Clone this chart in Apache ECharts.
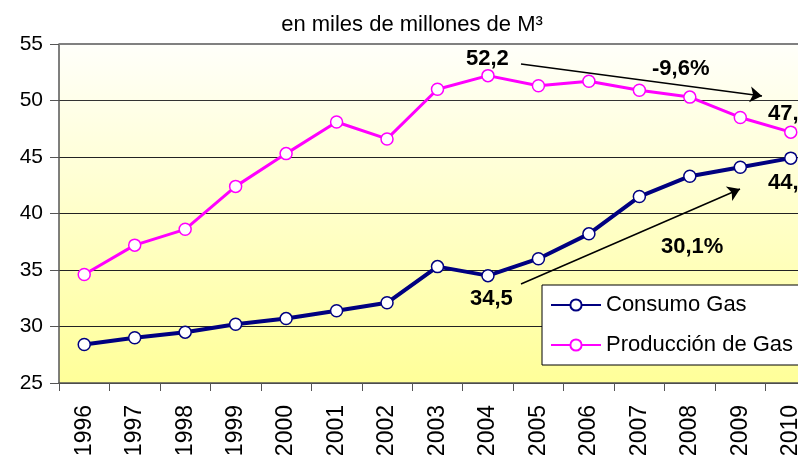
<!DOCTYPE html>
<html>
<head>
<meta charset="utf-8">
<script src="https://cdn.jsdelivr.net/npm/echarts@6/dist/echarts.min.js"></script>
<style>
html,body{margin:0;padding:0;background:#fff;}
#c{width:798px;height:455px;}
</style>
</head>
<body>
<div id="c"></div>
<script>
const years = ['1996','1997','1998','1999','2000','2001','2002','2003','2004','2005','2006','2007','2008','2009','2010'];
const consumo = [28.4, 29.0, 29.5, 30.2, 30.7, 31.4, 32.1, 35.3, 34.5, 36.0, 38.2, 41.5, 43.3, 44.1, 44.9];
const produccion = [34.6, 37.2, 38.6, 42.4, 45.3, 48.1, 46.6, 51.0, 52.2, 51.3, 51.7, 50.9, 50.3, 48.5, 47.2];
const yTicks = [25, 30, 35, 40, 45, 50, 55];
const seriesNames = ['Consumo Gas', 'Producción de Gas'];
const subtitle = 'en miles de millones de M³';

const FONT = '"Liberation Sans", Arial, sans-serif';
const chart = echarts.init(document.getElementById('c'));

const arrowMark = (x1, y1, x2, y2) => ({
  silent: true, symbol: ['none', 'arrow'], symbolSize: 12,
  label: {show: false},
  lineStyle: {color: '#000', width: 1.5, type: 'solid'},
  data: [[{x: x1, y: y1}, {x: x2, y: y2}]]
});

chart.setOption({
  animation: false,
  backgroundColor: '#ffffff',
  title: {
    text: subtitle,
    left: 407, top: 9, textAlign: 'center',
    textStyle: {fontFamily: FONT, fontSize: 22, fontWeight: 'normal', color: '#000'}
  },
  grid: {
    left: 59, top: 44, right: -18, bottom: 72,
    containLabel: false, outerBoundsMode: 'none',
    show: true, borderWidth: 0,
    backgroundColor: {
      type: 'linear', x: 0, y: 0, x2: 0, y2: 1,
      colorStops: [{offset: 0, color: '#fffffa'}, {offset: 1, color: '#ffff99'}]
    }
  },
  legend: {
    orient: 'vertical', left: 542, top: 285,
    backgroundColor: '#ffffff', borderColor: '#000', borderWidth: 1,
    padding: [9, 12, 9, 8],
    itemWidth: 50, itemHeight: 14, itemGap: 18,
    textStyle: {fontFamily: FONT, fontSize: 22, color: '#000'},
    data: seriesNames
  },
  xAxis: {
    type: 'category', data: years, boundaryGap: true,
    axisLine: {show: true, lineStyle: {color: '#555', width: 1.5}},
    axisTick: {show: true, length: 8, lineStyle: {color: '#555'}},
    axisLabel: {rotate: 90, margin: 22, fontFamily: FONT, fontSize: 23, color: '#000'}
  },
  yAxis: {
    type: 'value', min: yTicks[0], max: yTicks[yTicks.length - 1], interval: 5,
    axisLine: {show: true, lineStyle: {color: '#555', width: 1.5}},
    axisTick: {show: true, length: 9, lineStyle: {color: '#555'}},
    axisLabel: {margin: 16, fontFamily: FONT, fontSize: 21, color: '#000'},
    splitLine: {show: true, lineStyle: {color: ['#333','#222','#222','#222','#222','#333','#808080'], width: 1}}
  },
  series: [
    {
      name: seriesNames[0], type: 'line', data: consumo,
      symbol: 'circle', symbolSize: 12,
      lineStyle: {color: '#000080', width: 4},
      itemStyle: {color: '#ffffff', borderColor: '#000080', borderWidth: 1.5},
      z: 3,
      markLine: arrowMark(521, 284, 740, 189)
    },
    {
      name: seriesNames[1], type: 'line', data: produccion,
      symbol: 'circle', symbolSize: 12,
      lineStyle: {color: '#ff00ff', width: 3},
      itemStyle: {color: '#ffffff', borderColor: '#ff00ff', borderWidth: 1.5},
      z: 2,
      markLine: arrowMark(521, 64, 762, 96)
    }
  ],
  graphic: [
    {type: 'line', shape: {x1: 59, y1: 44, x2: 798, y2: 44}, style: {stroke: '#808080', lineWidth: 2}, z: 1},
    {type: 'text', left: 466, top: 48, style: {text: '52,2', font: 'bold 22px ' + FONT, fill: '#000'}},
    {type: 'text', left: 652, top: 58, style: {text: '-9,6%', font: 'bold 22px ' + FONT, fill: '#000'}},
    {type: 'text', left: 768, top: 103, style: {text: '47,2', font: 'bold 22px ' + FONT, fill: '#000'}},
    {type: 'text', left: 768, top: 172, style: {text: '44,9', font: 'bold 22px ' + FONT, fill: '#000'}},
    {type: 'text', left: 661, top: 236, style: {text: '30,1%', font: 'bold 22px ' + FONT, fill: '#000'}},
    {type: 'text', left: 470, top: 288, style: {text: '34,5', font: 'bold 22px ' + FONT, fill: '#000'}}
  ]
});
</script>
</body>
</html>
